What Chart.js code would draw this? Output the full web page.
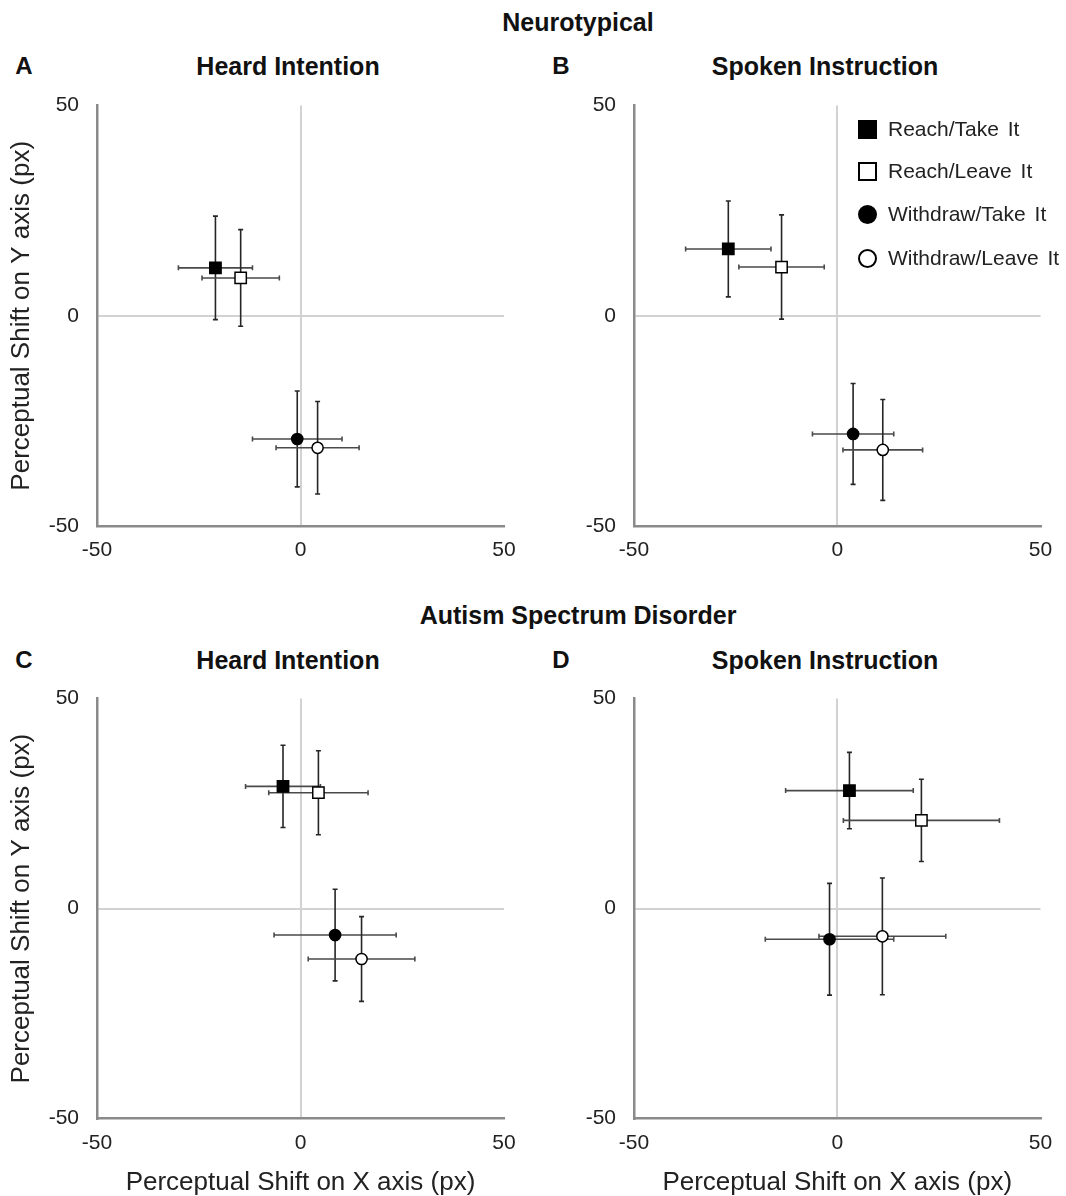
<!DOCTYPE html>
<html lang="en">
<head>
  <meta charset="UTF-8" />
  <title>Perceptual Shift - Neurotypical vs ASD</title>
  <script src="https://cdn.jsdelivr.net/npm/chart.js"></script>
  <style>
    html, body {
      margin: 0; width: 1066px; height: 1196px; overflow: hidden; background: #fff;
      font-family: 'Liberation Sans', Arial, sans-serif; color: #111;
    }
    .box { position: absolute; }
    .group { position: absolute; font-weight: bold; font-size: 25px; transform: translate(-50%, -50%); white-space: nowrap; }
    .panelTitle { position: absolute; font-weight: bold; font-size: 25px; transform: translate(-50%, -50%); white-space: nowrap; }
    .letter { position: absolute; font-weight: bold; font-size: 24px; transform: translate(-50%, -50%); }
    #legend { position: absolute; left: 858px; top: 0; font-size: 21px; color: #222; word-spacing: 3px; }
    .item { position: absolute; left: 0; display: flex; align-items: center; white-space: nowrap; transform: translateY(-50%); }
    .mk { display: inline-block; width: 19px; height: 19px; box-sizing: border-box; margin-right: 11px; border: 2.5px solid #000; }
    .mk.fill { background: #000; }
    .mk.open { background: #fff; }
    .mk.round { border-radius: 50%; }
  </style>
</head>
<body>
  <div class="group" style="left:578px; top:22px;">Neurotypical</div>
  <div class="group" style="left:578px; top:615px;">Autism Spectrum Disorder</div>

  <div class="letter" style="left:24px; top:66px;">A</div>
  <div class="panelTitle" style="left:288px; top:66px;">Heard Intention</div>
  <div class="letter" style="left:561px; top:66px;">B</div>
  <div class="panelTitle" style="left:825px; top:66px;">Spoken Instruction</div>
  <div class="letter" style="left:24px; top:660px;">C</div>
  <div class="panelTitle" style="left:288px; top:660px;">Heard Intention</div>
  <div class="letter" style="left:561px; top:660px;">D</div>
  <div class="panelTitle" style="left:825px; top:660px;">Spoken Instruction</div>

  <div class="box" style="left:0; top:74.7px; width:533px; height:489.3px;"><canvas id="chartA"></canvas></div>
  <div class="box" style="left:533px; top:74.7px; width:533px; height:489.3px;"><canvas id="chartB"></canvas></div>
  <div class="box" style="left:0; top:667.7px; width:533px; height:528.3px;"><canvas id="chartC"></canvas></div>
  <div class="box" style="left:533px; top:667.7px; width:533px; height:528.3px;"><canvas id="chartD"></canvas></div>

  <div id="legend"></div>

<script>
  // conditions, in legend order
  const conditions = ['Reach/Take It', 'Reach/Leave It', 'Withdraw/Take It', 'Withdraw/Leave It'];
  const markerStyle = ['rect', 'rect', 'circle', 'circle'];
  const markerFill = ['#000', '#fff', '#000', '#fff'];

  const axisTicks = [-50, 0, 50];

  // Neurotypical - Heard Intention
  const aX = [-20.9, -14.7, -0.8, 4.2];
  const aY = [11.4, 9.0, -29.3, -31.4];
  const aXErr = [9.1, 9.5, 11.0, 10.2];
  const aYErr = [12.3, 11.5, 11.4, 11.0];

  // Neurotypical - Spoken Instruction
  const bX = [-26.8, -13.7, 3.9, 11.2];
  const bY = [15.9, 11.6, -28.1, -31.9];
  const bXErr = [10.5, 10.5, 10.0, 9.8];
  const bYErr = [11.4, 12.4, 12.0, 12.0];

  // ASD - Heard Intention
  const cX = [-4.3, 4.4, 8.5, 15.0];
  const cY = [29.1, 27.6, -6.3, -12.0];
  const cXErr = [9.2, 12.2, 15.0, 13.1];
  const cYErr = [9.8, 10.0, 10.9, 10.1];

  // ASD - Spoken Instruction
  const dX = [3.0, 20.7, -1.9, 11.1];
  const dY = [28.1, 21.0, -7.3, -6.6];
  const dXErr = [15.7, 19.2, 15.8, 15.6];
  const dYErr = [9.1, 9.8, 13.3, 13.9];

  const FONT = "'Liberation Sans', Arial, sans-serif";

  // draws x and y error bars under the markers
  const errorBars = {
    id: 'errorBars',
    beforeDatasetsDraw(chart, args, opts) {
      const { ctx, scales: { x, y } } = chart;
      const cap = 2.5;
      ctx.save();
      ctx.lineWidth = 1.6;
      chart.data.datasets.forEach((ds, i) => {
        const p = ds.data[0];
        const px = x.getPixelForValue(p.x), py = y.getPixelForValue(p.y);
        const x0 = x.getPixelForValue(p.x - opts.xErr[i]), x1 = x.getPixelForValue(p.x + opts.xErr[i]);
        const y0 = y.getPixelForValue(p.y - opts.yErr[i]), y1 = y.getPixelForValue(p.y + opts.yErr[i]);
        ctx.strokeStyle = '#4a4a4a';
        ctx.beginPath();
        ctx.moveTo(x0, py); ctx.lineTo(x1, py);
        ctx.moveTo(x0, py - cap); ctx.lineTo(x0, py + cap);
        ctx.moveTo(x1, py - cap); ctx.lineTo(x1, py + cap);
        ctx.stroke();
        ctx.strokeStyle = '#262626';
        ctx.beginPath();
        ctx.moveTo(px, y0); ctx.lineTo(px, y1);
        ctx.moveTo(px - cap, y0); ctx.lineTo(px + cap, y0);
        ctx.moveTo(px - cap, y1); ctx.lineTo(px + cap, y1);
        ctx.stroke();
      });
      ctx.restore();
    }
  };

  const zeroLine = c => (c.tick && c.tick.value === 0) ? '#d2d2d2' : 'rgba(0,0,0,0)';

  function makePanel(id, xs, ys, xErr, yErr, cfg) {
    const datasets = conditions.map((name, i) => ({
      label: name,
      data: [{ x: xs[i], y: ys[i] }],
      pointStyle: markerStyle[i],
      pointRadius: markerStyle[i] === 'rect' ? 8 : 5.6,
      pointBackgroundColor: markerFill[i],
      pointBorderColor: '#000',
      pointBorderWidth: 1.5,
      showLine: false
    }));
    return new Chart(document.getElementById(id), {
      type: 'scatter',
      data: { datasets },
      plugins: [errorBars],
      options: {
        responsive: true,
        maintainAspectRatio: false,
        animation: false,
        events: [],
        layout: { padding: { left: 0, top: 13.7, right: cfg.right, bottom: 0 } },
        plugins: {
          legend: { display: false },
          tooltip: { enabled: false },
          errorBars: { xErr, yErr }
        },
        scales: {
          x: {
            type: 'linear', min: -50, max: 50,
            afterBuildTicks: s => { s.ticks = axisTicks.map(v => ({ value: v })); },
            afterFit: s => { s.height = cfg.xHeight; },
            ticks: { color: '#222', font: { family: FONT, size: 21 }, padding: 12 },
            grid: { drawTicks: false, color: zeroLine, lineWidth: 2 },
            border: { display: true, color: '#8a8a8a', width: 2.5 },
            title: {
              display: cfg.xTitle, text: 'Perceptual Shift on X axis (px)', color: '#222',
              font: { family: FONT, size: 26, lineHeight: 1.0 }, padding: { top: 0, bottom: 0 }
            }
          },
          y: {
            type: 'linear', min: -50, max: 50,
            afterBuildTicks: s => { s.ticks = axisTicks.map(v => ({ value: v })); },
            afterFit: s => { s.width = cfg.yWidth; },
            ticks: { color: '#222', font: { family: FONT, size: 21 }, padding: 18 },
            grid: { drawTicks: false, color: zeroLine, lineWidth: 2 },
            border: { display: true, color: '#8a8a8a', width: 2.5 },
            title: {
              display: cfg.yTitle, text: 'Perceptual Shift on Y axis (px)', color: '#222',
              font: { family: FONT, size: 26, lineHeight: 1.0 }, padding: { top: 9, bottom: 0 }
            }
          }
        }
      }
    });
  }

  makePanel('chartA', aX, aY, aXErr, aYErr, { right: 29, yWidth: 97, xHeight: 38.3, xTitle: false, yTitle: true });
  makePanel('chartB', bX, bY, bXErr, bYErr, { right: 25.5, yWidth: 101, xHeight: 38.3, xTitle: false, yTitle: false });
  makePanel('chartC', cX, cY, cXErr, cYErr, { right: 29, yWidth: 97, xHeight: 77.7, xTitle: true, yTitle: true });
  makePanel('chartD', dX, dY, dXErr, dYErr, { right: 25.5, yWidth: 101, xHeight: 77.7, xTitle: true, yTitle: false });

  // legend inside panel B
  const legendRows = [129, 171, 214, 258];
  const legend = document.getElementById('legend');
  conditions.forEach((name, i) => {
    const row = document.createElement('div');
    row.className = 'item';
    row.style.top = legendRows[i] + 'px';
    const mk = document.createElement('span');
    mk.className = 'mk ' + (markerFill[i] === '#000' ? 'fill' : 'open') + (markerStyle[i] === 'circle' ? ' round' : '');
    row.appendChild(mk);
    row.appendChild(document.createTextNode(name));
    legend.appendChild(row);
  });
</script>
</body>
</html>
